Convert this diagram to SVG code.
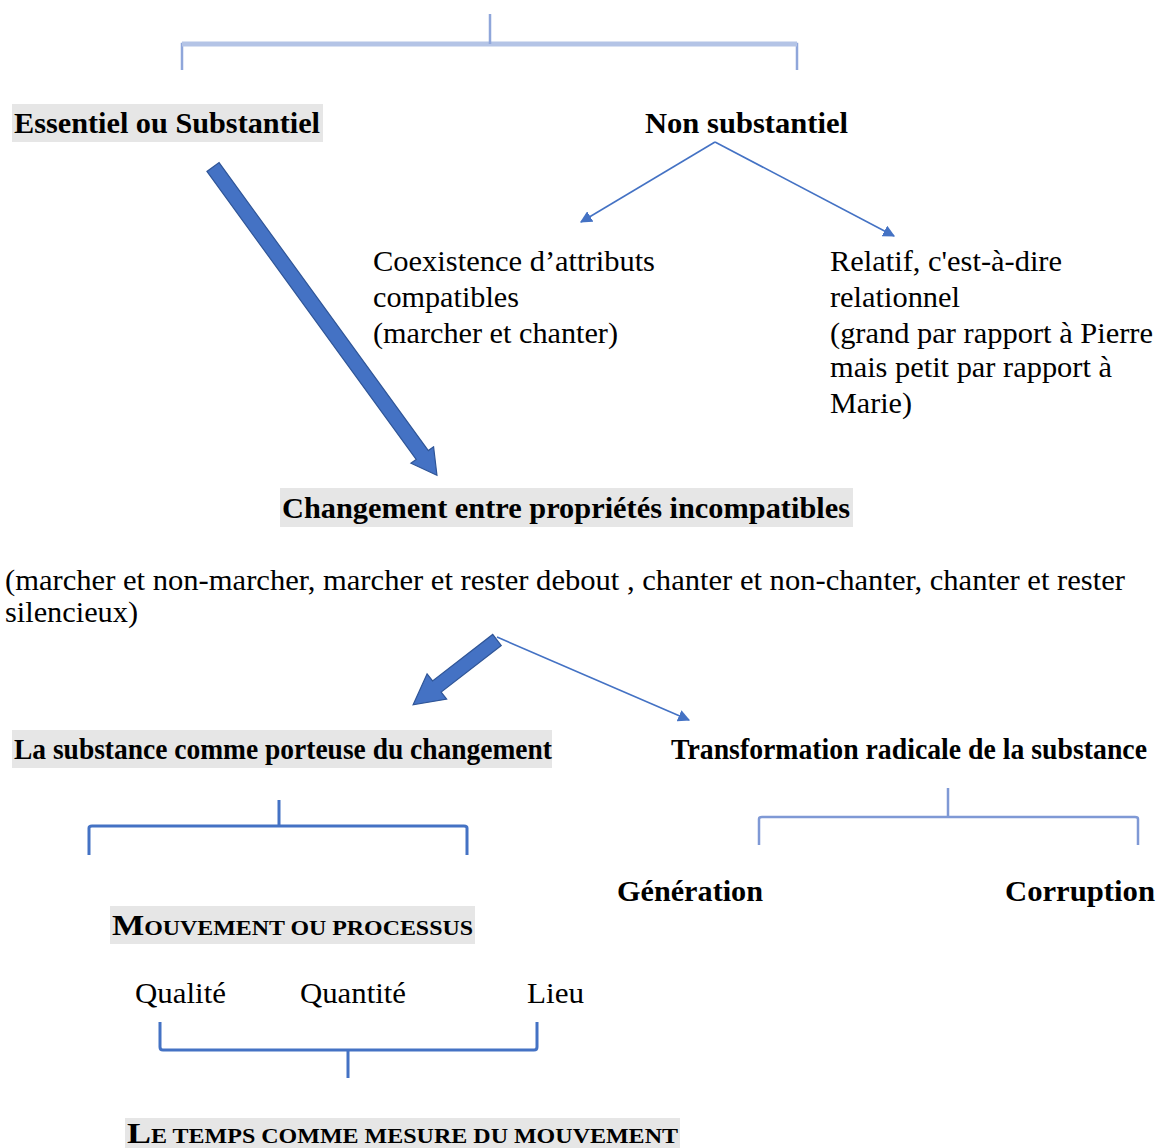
<svg xmlns="http://www.w3.org/2000/svg" width="1161" height="1148" viewBox="0 0 1161 1148">
<style>
text{font-family:"Liberation Serif","Times New Roman",serif;font-size:30px;fill:#000}
.b{font-weight:bold}
.bg{fill:#e6e6e6}
.thin{stroke:#4472c4;stroke-width:1.6;fill:none}
.br{stroke:#4472c4;stroke-width:3;fill:none;stroke-linejoin:round}
.thick{fill:#4472c4;stroke:#2f5597;stroke-width:1.2}
.sc{font-size:21px}
</style>
<defs>
<marker id="ah" viewBox="0 0 10 10" refX="9" refY="5" markerWidth="12" markerHeight="12" markerUnits="userSpaceOnUse" orient="auto">
<path d="M0,0 L10,5 L0,10 z" fill="#4472c4"/>
</marker>
</defs>
<rect width="1161" height="1148" fill="#fff"/>
<g id="connectors">
<g id="brace-top">
<path d="M182,70 V44 H797 V70" fill="none" stroke="#8fa6da" stroke-width="2.5"/>
<path d="M182,44 H797" stroke="#b4c4e6" stroke-width="5"/>
<path d="M490,14 V44" stroke="#8fa6da" stroke-width="2.5"/>
</g>
<path class="thin" d="M715,142 L581,222" marker-end="url(#ah)"/>
<path class="thin" d="M715,142 L894,236" marker-end="url(#ah)"/>
<path class="thick" transform="translate(213,167) rotate(54)" d="M0,-7.5 L356,-7.5 L356,-14 L381,0 L356,14 L356,7.5 L0,7.5 z"/>
<path class="thick" transform="translate(497,640) rotate(142.3)" d="M0,-7 L76,-7 L76,-16 L106,0 L76,16 L76,7 L0,7 z"/>
<path class="thin" d="M497,637 L689,720" marker-end="url(#ah)"/>
<path class="br" d="M89,855 V828 Q89,826 92,826 H464 Q467,826 467,828 V855 M279,800 V826"/>
<path d="M759,845 V819 Q759,817 762,817 H1135 Q1138,817 1138,819 V845 M948,788 V817" fill="none" stroke="#7f99d5" stroke-width="2.5"/>
<path class="br" d="M160,1022 V1047 Q160,1050 163,1050 H534 Q537,1050 537,1047 V1022 M348,1050 V1078"/>
</g>
<g id="n-essentiel">
<rect class="bg" x="12" y="104" width="311" height="38"/>
<text class="b" x="14" y="133" textLength="306" lengthAdjust="spacingAndGlyphs">Essentiel ou Substantiel</text>
</g>
<g id="n-non-substantiel">
<text class="b" x="645" y="133" textLength="203" lengthAdjust="spacingAndGlyphs">Non substantiel</text>
</g>
<g id="n-coexistence">
<text x="373" y="271" textLength="282" lengthAdjust="spacingAndGlyphs">Coexistence d’attributs</text>
<text x="373" y="307" textLength="146" lengthAdjust="spacingAndGlyphs">compatibles</text>
<text x="373" y="343" textLength="245" lengthAdjust="spacingAndGlyphs">(marcher et chanter)</text>
</g>
<g id="n-relatif">
<text x="830" y="271" textLength="232" lengthAdjust="spacingAndGlyphs">Relatif, c'est-à-dire</text>
<text x="830" y="307" textLength="130" lengthAdjust="spacingAndGlyphs">relationnel</text>
<text x="830" y="343" textLength="323" lengthAdjust="spacingAndGlyphs">(grand par rapport à Pierre</text>
<text x="830" y="377" textLength="282" lengthAdjust="spacingAndGlyphs">mais petit par rapport à</text>
<text x="830" y="413" textLength="82" lengthAdjust="spacingAndGlyphs">Marie)</text>
</g>
<g id="n-changement">
<rect class="bg" x="280" y="488" width="573" height="39"/>
<text class="b" x="282" y="518" textLength="568" lengthAdjust="spacingAndGlyphs">Changement entre propriétés incompatibles</text>
</g>
<g id="n-exemples">
<text x="5" y="590" textLength="1120" lengthAdjust="spacingAndGlyphs">(marcher et non-marcher, marcher et rester debout , chanter et non-chanter, chanter et rester</text>
<text x="5" y="622" textLength="133" lengthAdjust="spacingAndGlyphs">silencieux)</text>
</g>
<g id="n-substance">
<rect class="bg" x="12" y="730" width="540" height="38"/>
<text class="b" x="14" y="759" textLength="538" lengthAdjust="spacingAndGlyphs">La substance comme porteuse du changement</text>
</g>
<g id="n-transformation">
<text class="b" x="671" y="759" font-size="27" textLength="476" lengthAdjust="spacingAndGlyphs">Transformation radicale de la substance</text>
</g>
<g id="n-generation">
<text class="b" x="617" y="901" textLength="146" lengthAdjust="spacingAndGlyphs">Génération</text>
</g>
<g id="n-corruption">
<text class="b" x="1005" y="901" textLength="150" lengthAdjust="spacingAndGlyphs">Corruption</text>
</g>
<g id="n-mouvement">
<rect class="bg" x="110" y="906" width="365" height="38"/>
<text class="b" x="112" y="935" textLength="361" lengthAdjust="spacingAndGlyphs">M<tspan class="sc">OUVEMENT OU PROCESSUS</tspan></text>
</g>
<g id="n-qualite">
<text x="135" y="1003" textLength="91" lengthAdjust="spacingAndGlyphs">Qualité</text>
</g>
<g id="n-quantite">
<text x="300" y="1003" textLength="106" lengthAdjust="spacingAndGlyphs">Quantité</text>
</g>
<g id="n-lieu">
<text x="527" y="1003" textLength="57" lengthAdjust="spacingAndGlyphs">Lieu</text>
</g>
<g id="n-temps">
<rect class="bg" x="125" y="1118" width="555" height="30"/>
<text class="b" x="127" y="1143" font-size="28" textLength="551" lengthAdjust="spacingAndGlyphs">L<tspan style="font-size:20px">E TEMPS COMME MESURE DU MOUVEMENT</tspan></text>
</g>
</svg>
